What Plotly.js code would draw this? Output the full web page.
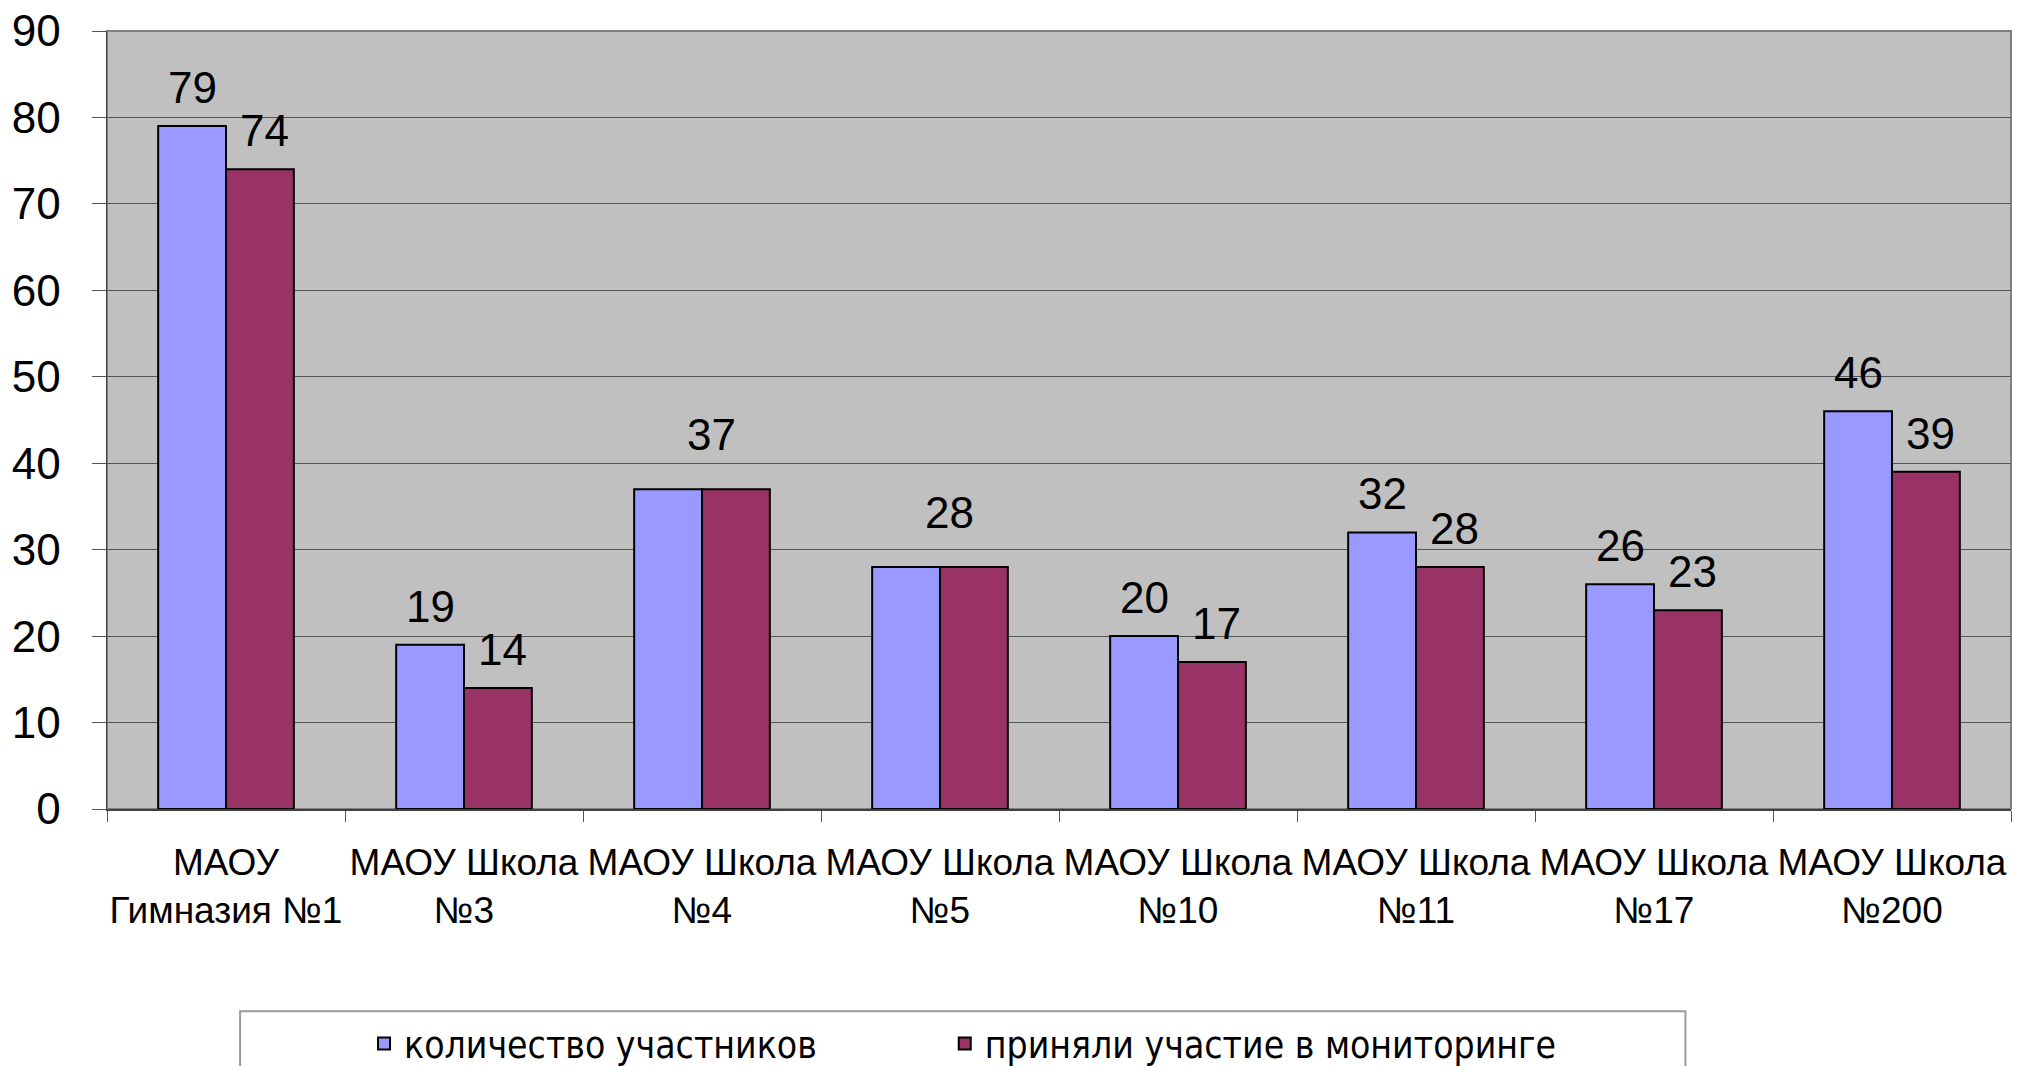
<!DOCTYPE html>
<html>
<head>
<meta charset="utf-8">
<script src="https://cdn.plot.ly/plotly-3.0.1.min.js"></script>
<style>html,body{margin:0;padding:0;background:#fff;}#chart{width:2022px;height:1066px;}</style>
</head>
<body>
<div id="chart"></div>
<script>
const categories = ["МАОУ<br>Гимназия №1", "МАОУ Школа<br>№3", "МАОУ Школа<br>№4", "МАОУ Школа<br>№5", "МАОУ Школа<br>№10", "МАОУ Школа<br>№11", "МАОУ Школа<br>№17", "МАОУ Школа<br>№200"];
const seriesNames = ["количество участников", "приняли участие в мониторинге"];
const participants = [79, 19, 37, 28, 20, 32, 26, 46];
const monitored = [74, 14, 37, 28, 17, 28, 23, 39];
const yTicks = [0, 10, 20, 30, 40, 50, 60, 70, 80, 90];

const colors = ["#9999FF", "#993366"];
const legendIds = ["legend", "legend2"];
const bargap = 0.43;
const barW = (1 - bargap) / 2;

const traces = [participants, monitored].map((vals, k) => ({
  type: "bar",
  name: seriesNames[k],
  legend: legendIds[k],
  x: categories,
  y: vals,
  marker: {color: colors[k], line: {color: "#000", width: 2}},
  hoverinfo: "x+y"
}));

const annotations = [];
categories.forEach((c, i) => {
  const a = participants[i], b = monitored[i];
  const lab = (x, v, ys) => annotations.push({
    x: x, y: v, xref: "x", yref: "y", text: String(v), showarrow: false,
    yanchor: "bottom", yshift: ys,
    font: {family: "Liberation Sans, Arial, sans-serif", size: 44, color: "#000"}
  });
  if (a === b) {
    lab(i + 0.04, a, 28);
  } else {
    lab(i - barW / 2, a, 12);
    lab(i + barW / 2 + 0.02, b, 12);
  }
});

const legendFont = {family: "DejaVu Sans Condensed, Liberation Sans Narrow, Liberation Sans, sans-serif", size: 37, color: "#000"};
const legendBase = {
  orientation: "h", xanchor: "left", y: -0.262, yanchor: "top",
  bgcolor: "rgba(0,0,0,0)", borderwidth: 0, font: legendFont
};

const layout = {
  width: 2022, height: 1066,
  margin: {l: 107, r: 11, t: 31, b: 257, autoexpand: false},
  paper_bgcolor: "#FFFFFF",
  plot_bgcolor: "#C0C0C0",
  barmode: "group",
  bargap: bargap,
  bargroupgap: 0,
  showlegend: true,
  font: {family: "Liberation Sans, Arial, sans-serif", color: "#000"},
  xaxis: {
    type: "category",
    automargin: false,
    tickangle: 0,
    tickson: "boundaries",
    ticks: "outside", ticklen: 11, tickcolor: "#555", tickwidth: 1,
    showline: true, linecolor: "#404040", linewidth: 1.5,
    showgrid: false,
    tickfont: {family: "Liberation Sans, Arial, sans-serif", size: 37, color: "#000"},
    ticklabelstandoff: 20
  },
  yaxis: {
    automargin: false,
    range: [0, 90],
    tickvals: yTicks,
    ticktext: yTicks.map(String),
    ticks: "outside", ticklen: 14, tickcolor: "#555", tickwidth: 1,
    showline: true, linecolor: "#404040", linewidth: 1.5,
    showgrid: true, gridcolor: "#555555", gridwidth: 1,
    zeroline: false,
    tickfont: {family: "Liberation Sans, Arial, sans-serif", size: 44, color: "#000"},
    ticklabelstandoff: 22
  },
  legend: Object.assign({}, legendBase, {x: 0.135}),
  legend2: Object.assign({}, legendBase, {x: 0.440}),
  shapes: [
    {type: "rect", xref: "paper", yref: "paper", x0: 0, x1: 1, y0: 0, y1: 1,
     line: {color: "#808080", width: 2}, layer: "below"},
    {type: "rect", xref: "paper", yref: "paper", x0: 0.0699, x1: 0.829, y0: -0.26, y1: -0.4,
     line: {color: "#999999", width: 2}, fillcolor: "rgba(0,0,0,0)"}
  ],
  annotations: annotations
};

Plotly.newPlot("chart", traces, layout, {displayModeBar: false, staticPlot: true});
</script>
</body>
</html>
